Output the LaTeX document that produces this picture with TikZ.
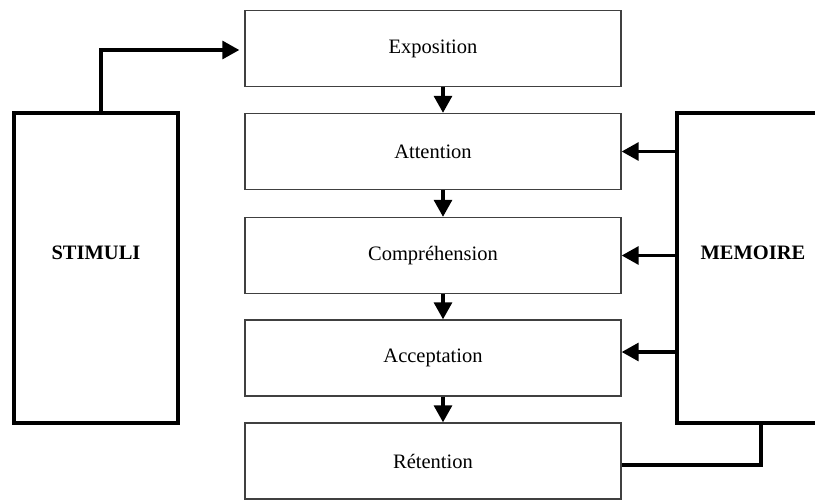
\documentclass[tikz,border=0pt]{standalone}
\usepackage{fontspec}
\setmainfont{Liberation Serif}
\usetikzlibrary{arrows.meta}

\begin{document}
\begin{tikzpicture}
			[x=1pt,y=-1pt,
			%Styles
			stage box/.style={draw=black!75,line width=1.4pt,minimum width=376pt,minimum height=76pt,inner sep=0pt,font=\fontsize{20.5}{24}\selectfont},
			side box/.style={draw,line width=3.8pt,minimum height=310pt,inner sep=0pt,label={[font=\bfseries\fontsize{20.5}{24}\selectfont,yshift=15pt]center:#1}},
			connector/.style={line width=3.2pt,-{Triangle[length=17pt,width=18pt]}},
			plain connector/.style={line width=3.2pt}
			]
			\useasboundingbox (0,0) rectangle (815,501);
			
			%The stages
			\node[stage box] (expo) at (433,48.5) {Exposition};
			\node[stage box] (att) at (433,151.5) {Attention};
			\node[stage box] (comp) at (433,255.5) {Compréhension};
			\node[stage box] (accept) at (433,358) {Acceptation};
			\node[stage box] (ret) at (433,461) {Rétention};
			
			%The sides
			\node[side box=STIMULI,minimum width=164pt] (stimuli) at (96,268) {};
			\node[side box=MEMOIRE,minimum width=152pt] (memoire) at (753,268) {};
			
			%Arrows down the stages
			\foreach \a/\b in {expo/att,att/comp,comp/accept,accept/ret}
				\draw[connector] ([xshift=10pt]\a.south) -- ([xshift=10pt]\b.north);
			
			%Stimuli to exposition
			\draw[connector,shorten >=5pt] ([xshift=5pt]stimuli.north) |- ([yshift=-1.5pt]expo.west);
			
			%Memoire to the stages
			\foreach \s in {att,comp}
				\draw[connector] (memoire.west |- \s.east) -- (\s.east);
			\coordinate (accept in) at ([yshift=6pt]accept.east);
			\draw[connector] (memoire.west |- accept in) -- (accept in);
			\draw[plain connector] ([xshift=8pt]memoire.south) |- ([yshift=-4pt]ret.east);
		\end{tikzpicture}
\end{document}
